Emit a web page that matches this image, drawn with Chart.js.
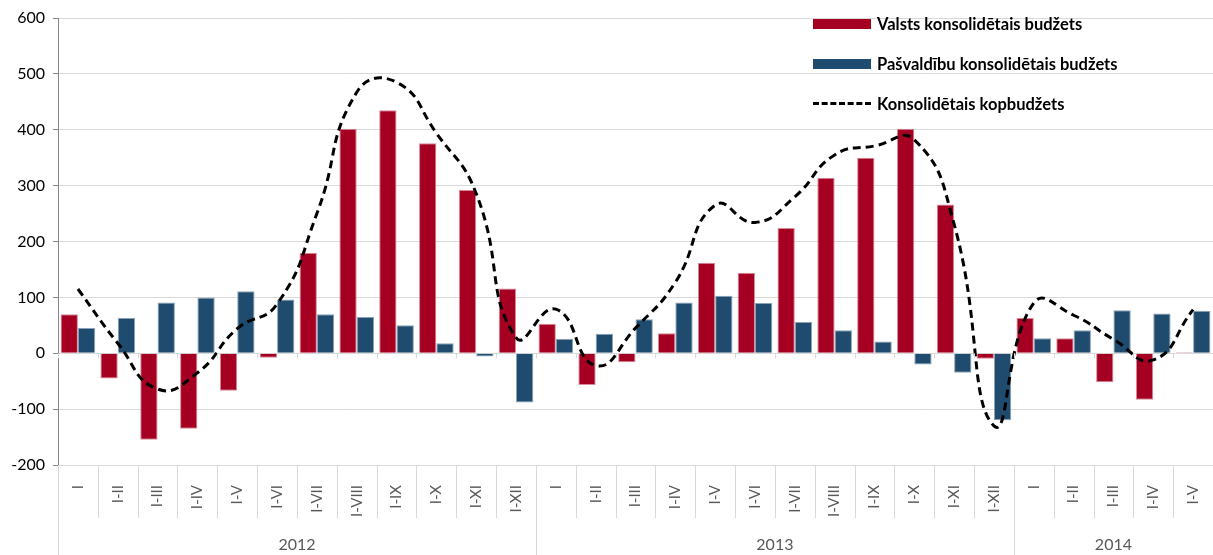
<!DOCTYPE html>
<html>
<head>
<meta charset="utf-8">
<script src="https://cdn.jsdelivr.net/npm/chart.js@4.4.1/dist/chart.umd.min.js"></script>
<style>
  html, body { margin: 0; padding: 0; background: #fff; }
  #wrap { position: relative; width: 1213px; height: 555px; }
  #legend { position: absolute; left: 813px; top: 10px; font-family: Lato, "Liberation Sans", sans-serif; font-weight: bold; font-size: 16.5px; color: #000; }
  .item { position: absolute; left: 0; height: 20px; white-space: nowrap; line-height: 20px; }
  .sw { position: absolute; left: 0; top: 5px; width: 58px; height: 10px; }
  .dash { position: absolute; left: 0; top: 8px; width: 58px; height: 0; border-top: 3px dashed #000; }
  .lbl { position: absolute; left: 64px; top: 0; }
</style>
</head>
<body>
<div id="wrap">
  <canvas id="budzetsCanvas" width="1213" height="555"></canvas>
  <div id="legend">
    <div class="item" style="top:4px"><span class="sw" style="background:#A50021"></span><span class="lbl">Valsts konsolidētais budžets</span></div>
    <div class="item" style="top:44px"><span class="sw" style="background:#1F4B6E"></span><span class="lbl">Pašvaldību konsolidētais budžets</span></div>
    <div class="item" style="top:84px"><span class="dash"></span><span class="lbl">Konsolidētais kopbudžets</span></div>
  </div>
</div>
<script>
var periods = ['I','I-II','I-III','I-IV','I-V','I-VI','I-VII','I-VIII','I-IX','I-X','I-XI','I-XII',
               'I','I-II','I-III','I-IV','I-V','I-VI','I-VII','I-VIII','I-IX','I-X','I-XI','I-XII',
               'I','I-II','I-III','I-IV','I-V'];
var years = ['2012','2013','2014'];
var yearCounts = [12, 12, 5];

var valsts = [70,-45,-155,-135,-67,-8,180,402,435,376,292,116,
              53,-57,-16,36,162,144,224,314,350,402,266,-10,
              63,27,-52,-83,2];
var pasvaldibu = [45,63,91,100,111,96,70,65,50,18,-6,-88,
                  26,35,61,91,103,90,56,41,21,-20,-35,-120,
                  27,41,77,71,76];
var kopbudzets = [115,18,-64,-35,44,88,250,467,485,394,286,28,
                  79,-22,45,127,265,234,280,355,371,382,231,-130,
                  90,68,25,-12,78];

var yTicks = [-200,-100,0,100,200,300,400,500,600];

var axisFont = 'Lato, "Liberation Sans", sans-serif';

// year groups, separators and small ticks under zero line
var yearAxis = {
    id: 'yearAxis',
    afterDraw: function(chart){
        var ctx = chart.ctx;
        var x = chart.scales.x;
        var y = chart.scales.y;
        var area = chart.chartArea;
        var half = (x.getPixelForValue(1) - x.getPixelForValue(0)) / 2;
        var zero = y.getPixelForValue(0);
        ctx.save();
        ctx.lineWidth = 1;
        ctx.strokeStyle = '#d9d9d9';
        // tick marks on zero line and category separators in label band
        for (var i = 0; i <= periods.length; i++) {
            var px = Math.round(x.getPixelForValue(i) - half) + 0.5;
            ctx.beginPath();
            ctx.moveTo(px, zero);
            ctx.lineTo(px, zero + 5);
            ctx.stroke();
            ctx.beginPath();
            ctx.moveTo(px, area.bottom);
            ctx.lineTo(px, area.bottom + 53);
            ctx.stroke();
        }
        // year separators and labels
        var start = 0;
        ctx.font = '16px ' + axisFont;
        ctx.fillStyle = '#595959';
        ctx.textAlign = 'center';
        ctx.textBaseline = 'middle';
        years.forEach(function(yr, k){
            var left = x.getPixelForValue(start) - half;
            var right = x.getPixelForValue(start + yearCounts[k] - 1) + half;
            var lx = Math.round(left) + 0.5;
            ctx.beginPath();
            ctx.moveTo(lx, area.bottom);
            ctx.lineTo(lx, chart.height);
            ctx.stroke();
            ctx.fillText(yr, (left + right) / 2, area.bottom + 80);
            start += yearCounts[k];
        });
        ctx.restore();
    }
};

var chart = new Chart(document.getElementById('budzetsCanvas'), {
    type: 'bar',
    data: {
        labels: periods,
        datasets: [
            {
                type: 'line',
                label: 'Konsolidētais kopbudžets',
                data: kopbudzets,
                borderColor: '#000',
                borderWidth: 3,
                borderDash: [8, 5],
                pointRadius: 0,
                tension: 0.5,
                fill: false,
                order: 0
            },
            {
                label: 'Valsts konsolidētais budžets',
                data: valsts,
                backgroundColor: '#A50021',
                borderColor: '#d98a9a',
                borderWidth: 1,
                categoryPercentage: 0.87,
                barPercentage: 1.0,
                order: 1
            },
            {
                label: 'Pašvaldību konsolidētais budžets',
                data: pasvaldibu,
                backgroundColor: '#1F4B6E',
                borderColor: '#8aa3b8',
                borderWidth: 1,
                categoryPercentage: 0.87,
                barPercentage: 1.0,
                order: 1
            }
        ]
    },
    options: {
        responsive: false,
        animation: false,
        devicePixelRatio: 1,
        layout: { padding: { top: 18, right: 0, left: 0, bottom: 0 } },
        plugins: {
            legend: { display: false },
            tooltip: { enabled: false }
        },
        scales: {
            x: {
                offset: true,
                grid: { display: false },
                border: { display: true, color: '#d9d9d9' },
                ticks: {
                    autoSkip: false,
                    minRotation: 90,
                    maxRotation: 90,
                    padding: 12,
                    color: '#595959',
                    font: { family: axisFont, size: 15 }
                },
                afterFit: function(scale){
                    scale.height = 90;
                    scale.paddingLeft = 0;
                    scale.paddingRight = 0;
                }
            },
            y: {
                min: -200,
                max: 600,
                afterBuildTicks: function(scale){
                    scale.ticks = yTicks.map(function(v){ return { value: v }; });
                },
                grid: { color: '#d9d9d9', tickColor: '#868686', tickLength: 5 },
                border: { display: true, color: '#868686' },
                ticks: {
                    padding: 8,
                    color: '#000',
                    font: { family: axisFont, size: 16 }
                },
                afterFit: function(scale){ scale.width = 58; }
            }
        }
    },
    plugins: [yearAxis]
});
</script>
</body>
</html>
